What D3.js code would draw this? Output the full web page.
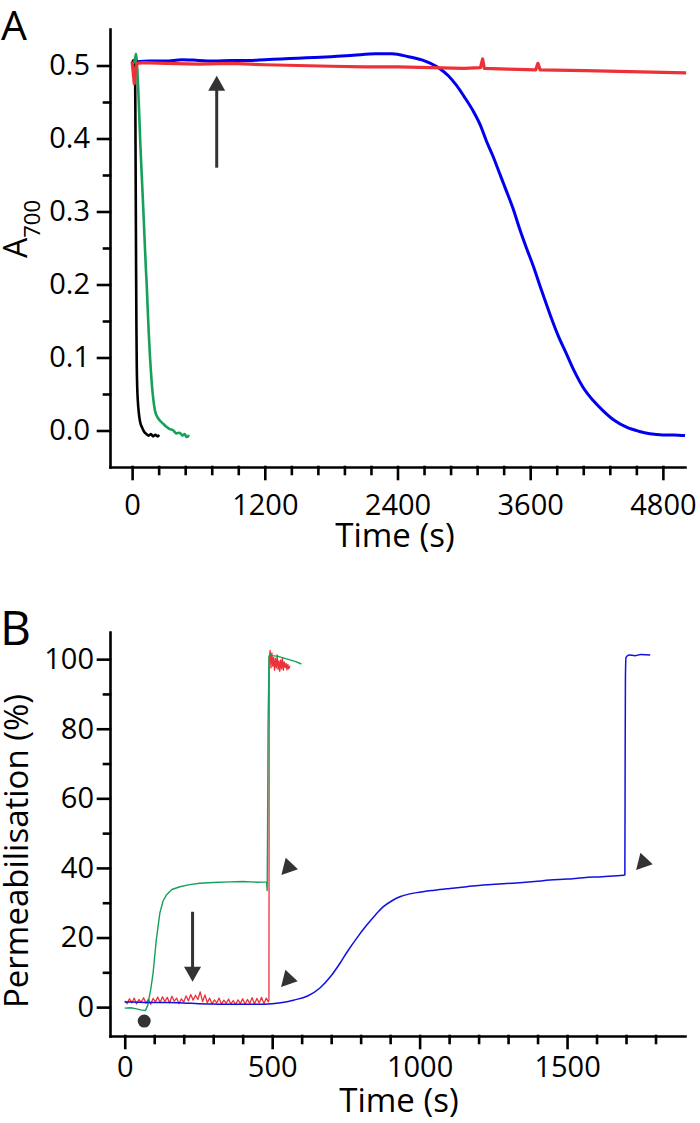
<!DOCTYPE html>
<html>
<head>
<meta charset="utf-8">
<script src="https://cdnjs.cloudflare.com/ajax/libs/d3/7.8.5/d3.min.js"></script>
<style>
  body { margin: 0; background: #fff; }
  svg { display: block; font-family: "Open Sans", sans-serif; }
  .axis path, .axis line { stroke: #000; stroke-width: 2.6; stroke-linecap: square; }
  .axis text { font-size: 29px; fill: #000; font-family: "Open Sans", sans-serif; }
</style>
</head>
<body>
<script>
// ---- panel A : A700 vs time ----
const aXTicks = [0, 1200, 2400, 3600, 4800];
const aXMinor = [240, 480, 720, 960, 1440, 1680, 1920, 2160, 2640, 2880, 3120, 3360, 3840, 4080, 4320, 4560];
const aYTicks = [0, 0.1, 0.2, 0.3, 0.4, 0.5];
const aYMinor = [0.05, 0.15, 0.25, 0.35, 0.45];

const aBlack = [[0,0.502],[10,0.507],[20,0.503],[27,0.49],[30,0.42],[33,0.32],[36,0.22],[39,0.14],[42,0.09],[46,0.06],[52,0.04],[60,0.025],[72,0.012],[90,0.004],[110,-0.002],[130,-0.005],[150,-0.007],[170,-0.005],[190,-0.008],[210,-0.006],[230,-0.008],[245,-0.006]];
const aGreen = [[0,0.500],[15,0.504],[28,0.510],[36,0.516],[45,0.50],[60,0.45],[75,0.39],[90,0.34],[105,0.29],[117,0.247],[125,0.22],[132,0.20],[140,0.17],[150,0.135],[162,0.10],[175,0.07],[190,0.045],[207,0.027],[230,0.018],[255,0.013],[282,0.009],[310,0.005],[340,0.002],[373,0.0],[400,-0.004],[430,-0.003],[455,-0.007],[475,-0.005],[494,-0.009],[515,-0.006]];
const aBlue = [[45,0.505],[150,0.506],[300,0.506],[450,0.508],[600,0.507],[750,0.506],[900,0.507],[1050,0.507],[1200,0.508],[1350,0.509],[1500,0.510],[1650,0.511],[1800,0.512],[2000,0.514],[2200,0.516],[2350,0.516],[2500,0.512],[2650,0.506],[2780,0.496],[2860,0.486],[2932,0.473],[3000,0.458],[3083,0.438],[3150,0.418],[3203,0.397],[3260,0.377],[3324,0.352],[3380,0.330],[3445,0.304],[3505,0.276],[3566,0.250],[3626,0.226],[3700,0.193],[3777,0.160],[3850,0.131],[3928,0.105],[4000,0.081],[4079,0.059],[4170,0.041],[4260,0.027],[4360,0.014],[4471,0.0045],[4580,-0.001],[4683,-0.0045],[4800,-0.006],[4900,-0.006],[5000,-0.007]];
const aRed = [[0,0.505],[10,0.49],[20,0.475],[30,0.495],[45,0.503],[100,0.504],[300,0.503],[600,0.502],[900,0.503],[1200,0.501],[1500,0.500],[1800,0.499],[2100,0.498],[2400,0.498],[2700,0.497],[3000,0.496],[3150,0.497],[3170,0.509],[3185,0.496],[3400,0.495],[3650,0.494],[3670,0.503],[3690,0.494],[4100,0.493],[4400,0.492],[4700,0.491],[5010,0.490]];

// ---- panel B : permeabilisation vs time ----
const bXTicks = [0, 500, 1000, 1500];
const bXMinor = [100, 200, 300, 400, 600, 700, 800, 900, 1100, 1200, 1300, 1400, 1600, 1700, 1800];
const bYTicks = [0, 20, 40, 60, 80, 100];
const bYMinor = [10, 30, 50, 70, 90];

const bGreen = [[0,-0.3],[20,-0.2],[40,-0.5],[55,-0.8],[70,-1.0],[78,0.5],[88,5],[96,9.7],[107,19.3],[119,27],[130,30.5],[141,32.2],[160,33.8],[187,34.6],[220,35.2],[254,35.6],[300,35.8],[356,36.0],[400,36.1],[450,35.9],[481,36.0],[483,33.5],[485,60],[486,80.7],[488,92],[489,100.6],[492,101.5],[500,101.0],[520,100.8],[540,100.3],[560,99.8],[580,99.3],[599,98.6]];
const bRed = [[0,1.8],[8,1.0],[16,2.4],[24,1.2],[32,2.6],[40,0.9],[48,2.2],[56,1.4],[64,2.7],[72,1.1],[80,2.3],[88,0.8],[96,2.5],[104,1.5],[112,2.9],[120,1.3],[128,3.0],[136,1.6],[144,2.8],[152,1.2],[160,3.1],[168,1.7],[176,2.6],[184,1.0],[192,2.4],[200,1.5],[208,3.2],[216,1.8],[224,3.6],[232,2.0],[240,3.4],[248,2.2],[256,4.4],[264,1.6],[272,3.5],[280,1.3],[288,2.6],[296,0.9],[304,2.1],[312,1.2],[320,2.6],[328,0.8],[336,2.0],[344,1.1],[352,2.3],[360,0.9],[368,1.9],[376,0.7],[384,2.1],[392,1.0],[400,2.4],[408,0.8],[416,2.2],[424,1.1],[432,2.7],[440,0.9],[448,2.5],[456,1.2],[464,2.8],[472,1.0],[480,2.6],[487,1.5],[489,2.0],[490,100],[493,102.5],[496,97.5],[499,101.8],[502,98],[505,100.5],[508,96.8],[511,100.2],[514,97.5],[517,101.2],[520,97],[523,99.5],[526,96.5],[529,99.8],[532,97.2],[535,100.4],[538,96.8],[541,99.2],[544,97.6],[547,98.8],[550,96.9],[553,98.5],[556,97.2],[560,98.1]];
const bBlue = [[0,1.5],[50,1.4],[100,1.3],[150,1.3],[200,1.2],[250,1.0],[300,0.9],[350,0.8],[400,0.8],[450,0.8],[500,1.0],[540,1.4],[572,2.0],[620,3.2],[662,5.5],[700,9.0],[730,12.6],[753,15.7],[790,20.2],[820,23.5],[850,26.5],[876,28.8],[905,30.5],[933,31.7],[960,32.4],[990,32.9],[1050,33.6],[1103,34.1],[1160,34.6],[1216,35.1],[1270,35.4],[1329,35.7],[1390,36.1],[1442,36.5],[1500,36.8],[1556,37.2],[1620,37.5],[1691,37.9],[1696,38.0],[1697,70],[1698,95],[1700,100.5],[1710,101.2],[1730,101.0],[1750,101.3],[1782,101.2]];

// annotations (data coordinates)
const aArrow = {t: 765, from: 0.36, to: 0.486};
const bArrow = {t: 230, from: 27.4, to: 7.3};
const bDot = [66, -4.0];
const bTriangles = [[555, 40.2], [554, 8.0], [1758, 41.6]];

const svg = d3.select("body").append("svg")
    .attr("width", 700)
    .attr("height", 1123);

function panel(opts) {
    const x = d3.scaleLinear().domain(opts.xDomain).range([110, 685]);
    const y = d3.scaleLinear().domain(opts.yDomain).range([opts.bottom, opts.top]);

    const g = svg.append("g");

    // minor ticks
    g.append("g").attr("class", "axis")
        .attr("transform", `translate(0,${opts.bottom})`)
        .call(d3.axisBottom(x).tickValues(opts.xMinor).tickSize(7).tickFormat(""))
        .select(".domain").remove();
    g.append("g").attr("class", "axis")
        .attr("transform", "translate(110,0)")
        .call(d3.axisLeft(y).tickValues(opts.yMinor).tickSize(6).tickFormat(""))
        .select(".domain").remove();

    // major ticks
    g.append("g").attr("class", "axis")
        .attr("transform", `translate(0,${opts.bottom})`)
        .call(d3.axisBottom(x).tickValues(opts.xTicks).tickSize(12).tickSizeOuter(0).tickPadding(opts.xPad)
            .tickFormat(d => d));
    g.append("g").attr("class", "axis")
        .attr("transform", "translate(110,0)")
        .call(d3.axisLeft(y).tickValues(opts.yTicks).tickSize(12).tickSizeOuter(0).tickPadding(opts.yPad)
            .tickFormat(opts.yFormat));

    opts.series.forEach(s => {
        const line = d3.line().x(d => x(d[0])).y(d => y(d[1]))
            .curve(s.smooth ? d3.curveMonotoneX : d3.curveLinear);
        g.append("path")
            .datum(s.data)
            .attr("fill", "none")
            .attr("stroke", s.color)
            .attr("stroke-width", s.width)
            .attr("stroke-linejoin", "round")
            .attr("d", line);
    });
    return {g, x, y};
}

const A = panel({
    xDomain: [-200, 5000], yDomain: [-0.05, 0.55], top: 29, bottom: 467,
    xTicks: aXTicks, xMinor: aXMinor, yTicks: aYTicks, yMinor: aYMinor,
    xPad: 15, yPad: 8, yFormat: d3.format(".1f"),
    series: [
        {data: aBlack, color: "#000000", width: 2.6, smooth: true},
        {data: aGreen, color: "#16a05a", width: 2.6, smooth: true},
        {data: aBlue, color: "#0000ee", width: 3, smooth: true},
        {data: aRed, color: "#ec3238", width: 3.2}
    ]
});

const B = panel({
    xDomain: [-50, 1900], yDomain: [-8.3, 107.8], top: 632, bottom: 1036,
    xTicks: bXTicks, xMinor: bXMinor, yTicks: bYTicks, yMinor: bYMinor,
    xPad: 8, yPad: 4, yFormat: d3.format("d"),
    series: [
        {data: bRed, color: "#ec3238", width: 1.3},
        {data: bGreen, color: "#16a05a", width: 1.4},
        {data: bBlue, color: "#1010e0", width: 1.5, smooth: true}
    ]
});

// arrows
const ann = "#333333";
function arrow(g, x0, y0, x1, y1) {
    const dir = Math.sign(y1 - y0);
    g.append("line")
        .attr("x1", x0).attr("y1", y0)
        .attr("x2", x1).attr("y2", y1 - dir * 12)
        .attr("stroke", ann).attr("stroke-width", 3);
    g.append("path")
        .attr("d", `M${x1},${y1} L${x1 - 8.5},${y1 - dir * 15} L${x1 + 8.5},${y1 - dir * 15} Z`)
        .attr("fill", ann);
}
arrow(A.g, A.x(aArrow.t), A.y(aArrow.from), A.x(aArrow.t), A.y(aArrow.to));
arrow(B.g, B.x(bArrow.t), B.y(bArrow.from), B.x(bArrow.t), B.y(bArrow.to));

B.g.append("circle")
    .attr("cx", B.x(bDot[0])).attr("cy", B.y(bDot[1]))
    .attr("r", 6.5).attr("fill", ann);

B.g.selectAll(".tri")
    .data(bTriangles)
    .enter()
    .append("path")
    .attr("class", "tri")
    .attr("transform", d => `translate(${B.x(d[0])},${B.y(d[1])})`)
    .attr("d", "M-2.7,-9.6 L9.6,2 L-7,7.7 Z")
    .attr("fill", ann);

// labels
svg.append("text").attr("x", 1).attr("y", 40).attr("font-size", 41).text("A");
svg.append("text").attr("x", 0).attr("y", 645).attr("font-size", 48).text("B");

svg.append("text")
    .attr("x", 395).attr("y", 547)
    .attr("text-anchor", "middle").attr("font-size", 33)
    .text("Time (s)");
svg.append("text")
    .attr("x", 399).attr("y", 1112)
    .attr("text-anchor", "middle").attr("font-size", 33)
    .text("Time (s)");

const ya = svg.append("text")
    .attr("transform", "translate(27,229) rotate(-90)")
    .attr("text-anchor", "middle").attr("font-size", 32);
ya.append("tspan").text("A");
ya.append("tspan").attr("font-size", 22).attr("dy", 13).text("700");

svg.append("text")
    .attr("transform", "translate(28,851) rotate(-90)")
    .attr("text-anchor", "middle").attr("font-size", 33)
    .text("Permeabilisation (%)");
</script>
</body>
</html>
